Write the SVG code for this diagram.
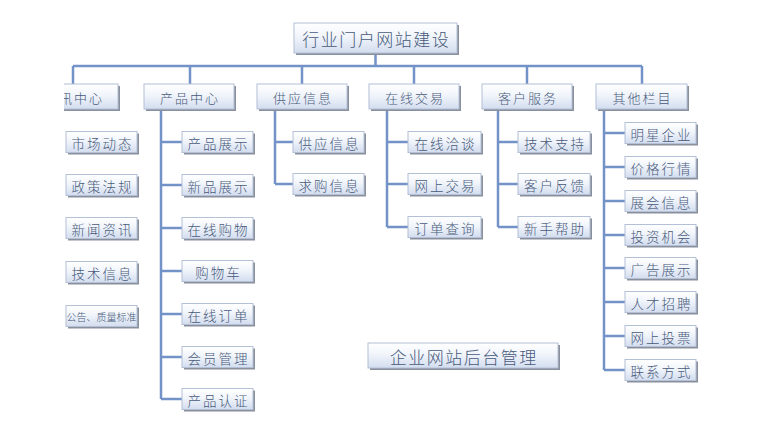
<svg xmlns="http://www.w3.org/2000/svg" width="760" height="433" viewBox="0 0 760 433">
<defs>
<linearGradient id="g" x1="0" y1="0" x2="0" y2="1">
<stop offset="0" stop-color="#ffffff"/>
<stop offset="0.45" stop-color="#f1f5fb"/>
<stop offset="1" stop-color="#d3ddef"/>
</linearGradient>
<clipPath id="cl"><rect x="64" y="0" width="696" height="433"/></clipPath>
</defs>
<style>
.sh{fill:#8a909b}
.bx{fill:url(#g);stroke:#b3c0d6;stroke-width:1}
.t{font-family:"Noto Sans CJK SC","Microsoft YaHei",sans-serif;font-weight:300;fill:#485a7a;text-anchor:middle;dominant-baseline:central}
.t0{font-size:17px;letter-spacing:1.5px}
.t1{font-size:13px;letter-spacing:2px}
.t2{font-size:13.5px;letter-spacing:2px}
.t3{font-size:10px}
.ln{fill:none;stroke:#7393c8;stroke-width:2.5}
</style>
<rect width="760" height="433" fill="#ffffff"/>
<g id="connectors" class="ln" clip-path="url(#cl)">
<path d="M375.5 53V66M73 66H642M73 66V84M190 66V84M302 66V84M414 66V84M527 66V84M642 66V84"/>
<path d="M161 109V399M161 142H182M161 185H182M161 228H182M161 271H182M161 314H182M161 357H182M161 399H182"/>
<path d="M275 109V184M275 142H293M275 184H293"/>
<path d="M387 109V227M387 142H408M387 184H408M387 227H408"/>
<path d="M498 109V227M498 142H518M498 184H518M498 227H518"/>
<path d="M604 109V370M604 133H625M604 167H625M604 201H625M604 235H625M604 268H625M604 302H625M604 336H625M604 370H625"/>
</g>
<g id="root"><rect class="sh" x="296" y="25" width="163" height="30"/><rect class="bx" x="294" y="23" width="163" height="30"/><text class="t t0" x="376.3" y="38.5">行业门户网站建设</text></g>
<g id="admin"><rect class="sh" x="370" y="345" width="190" height="25"/><rect class="bx" x="368" y="343" width="190" height="25"/><text class="t t0" x="463.8" y="356">企业网站后台管理</text></g>
<g clip-path="url(#cl)">
<g id="n-zixun"><rect class="sh" x="30" y="86" width="90" height="25"/><rect class="bx" x="28" y="84" width="90" height="25"/><text class="t t1" x="74" y="97">资讯中心</text></g>
</g>
<g id="n-chanpin"><rect class="sh" x="146" y="86" width="90" height="25"/><rect class="bx" x="144" y="84" width="90" height="25"/><text class="t t1" x="190" y="97">产品中心</text></g>
<g id="n-gongying"><rect class="sh" x="259" y="86" width="90" height="25"/><rect class="bx" x="257" y="84" width="90" height="25"/><text class="t t1" x="303" y="97">供应信息</text></g>
<g id="n-jiaoyi"><rect class="sh" x="371" y="86" width="90" height="25"/><rect class="bx" x="369" y="84" width="90" height="25"/><text class="t t1" x="415" y="97">在线交易</text></g>
<g id="n-kehu"><rect class="sh" x="484" y="86" width="90" height="25"/><rect class="bx" x="482" y="84" width="90" height="25"/><text class="t t1" x="528" y="97">客户服务</text></g>
<g id="n-qita"><rect class="sh" x="598" y="86" width="91" height="25"/><rect class="bx" x="596" y="84" width="91" height="25"/><text class="t t1" x="642.5" y="97">其他栏目</text></g>

<g id="z1"><rect class="sh" x="68" y="133.5" width="71" height="21"/><rect class="bx" x="66" y="131.5" width="71" height="21"/><text class="t t2" x="102.5" y="142.5">市场动态</text></g>
<g id="z2"><rect class="sh" x="68" y="176.5" width="71" height="21"/><rect class="bx" x="66" y="174.5" width="71" height="21"/><text class="t t2" x="102.5" y="185.5">政策法规</text></g>
<g id="z3"><rect class="sh" x="68" y="219.5" width="71" height="21"/><rect class="bx" x="66" y="217.5" width="71" height="21"/><text class="t t2" x="102.5" y="228.5">新闻资讯</text></g>
<g id="z4"><rect class="sh" x="68" y="263.5" width="71" height="21"/><rect class="bx" x="66" y="261.5" width="71" height="21"/><text class="t t2" x="102.5" y="272.5">技术信息</text></g>
<g id="z5"><rect class="sh" x="68" y="307.5" width="71" height="21"/><rect class="bx" x="66" y="305.5" width="71" height="21"/><text class="t t3" x="101.5" y="316.5">公告、质量标准</text></g>

<g id="c1"><rect class="sh" x="184" y="133.5" width="71" height="21"/><rect class="bx" x="182" y="131.5" width="71" height="21"/><text class="t t2" x="218.5" y="142.5">产品展示</text></g>
<g id="c2"><rect class="sh" x="184" y="176.5" width="71" height="21"/><rect class="bx" x="182" y="174.5" width="71" height="21"/><text class="t t2" x="218.5" y="185.5">新品展示</text></g>
<g id="c3"><rect class="sh" x="184" y="219.5" width="71" height="21"/><rect class="bx" x="182" y="217.5" width="71" height="21"/><text class="t t2" x="218.5" y="228.5">在线购物</text></g>
<g id="c4"><rect class="sh" x="184" y="262.5" width="71" height="21"/><rect class="bx" x="182" y="260.5" width="71" height="21"/><text class="t t2" x="218.5" y="271.5">购物车</text></g>
<g id="c5"><rect class="sh" x="184" y="305.5" width="71" height="21"/><rect class="bx" x="182" y="303.5" width="71" height="21"/><text class="t t2" x="218.5" y="314.5">在线订单</text></g>
<g id="c6"><rect class="sh" x="184" y="348.5" width="71" height="21"/><rect class="bx" x="182" y="346.5" width="71" height="21"/><text class="t t2" x="218.5" y="357.5">会员管理</text></g>
<g id="c7"><rect class="sh" x="184" y="390.5" width="71" height="21"/><rect class="bx" x="182" y="388.5" width="71" height="21"/><text class="t t2" x="218.5" y="399.5">产品认证</text></g>

<g id="g1"><rect class="sh" x="295" y="133.5" width="71" height="21"/><rect class="bx" x="293" y="131.5" width="71" height="21"/><text class="t t2" x="329.5" y="142.5">供应信息</text></g>
<g id="g2"><rect class="sh" x="295" y="175.5" width="71" height="21"/><rect class="bx" x="293" y="173.5" width="71" height="21"/><text class="t t2" x="329.5" y="184.5">求购信息</text></g>

<g id="j1"><rect class="sh" x="410" y="133.5" width="73" height="21"/><rect class="bx" x="408" y="131.5" width="73" height="21"/><text class="t t2" x="445.5" y="142.5">在线洽谈</text></g>
<g id="j2"><rect class="sh" x="410" y="175.5" width="73" height="21"/><rect class="bx" x="408" y="173.5" width="73" height="21"/><text class="t t2" x="445.5" y="184.5">网上交易</text></g>
<g id="j3"><rect class="sh" x="410" y="218.5" width="73" height="21"/><rect class="bx" x="408" y="216.5" width="73" height="21"/><text class="t t2" x="445.5" y="227.5">订单查询</text></g>

<g id="k1"><rect class="sh" x="520" y="133.5" width="72" height="21"/><rect class="bx" x="518" y="131.5" width="72" height="21"/><text class="t t2" x="555" y="142.5">技术支持</text></g>
<g id="k2"><rect class="sh" x="520" y="175.5" width="72" height="21"/><rect class="bx" x="518" y="173.5" width="72" height="21"/><text class="t t2" x="555" y="184.5">客户反馈</text></g>
<g id="k3"><rect class="sh" x="520" y="218.5" width="72" height="21"/><rect class="bx" x="518" y="216.5" width="72" height="21"/><text class="t t2" x="555" y="227.5">新手帮助</text></g>

<g id="q1"><rect class="sh" x="627" y="124.5" width="71" height="21"/><rect class="bx" x="625" y="122.5" width="71" height="21"/><text class="t t2" x="661.5" y="133.5">明星企业</text></g>
<g id="q2"><rect class="sh" x="627" y="158.5" width="71" height="21"/><rect class="bx" x="625" y="156.5" width="71" height="21"/><text class="t t2" x="661.5" y="167.5">价格行情</text></g>
<g id="q3"><rect class="sh" x="627" y="192.5" width="71" height="21"/><rect class="bx" x="625" y="190.5" width="71" height="21"/><text class="t t2" x="661.5" y="201.5">展会信息</text></g>
<g id="q4"><rect class="sh" x="627" y="226.5" width="71" height="21"/><rect class="bx" x="625" y="224.5" width="71" height="21"/><text class="t t2" x="661.5" y="235.5">投资机会</text></g>
<g id="q5"><rect class="sh" x="627" y="259.5" width="71" height="21"/><rect class="bx" x="625" y="257.5" width="71" height="21"/><text class="t t2" x="661.5" y="268.5">广告展示</text></g>
<g id="q6"><rect class="sh" x="627" y="293.5" width="71" height="21"/><rect class="bx" x="625" y="291.5" width="71" height="21"/><text class="t t2" x="661.5" y="302.5">人才招聘</text></g>
<g id="q7"><rect class="sh" x="627" y="327.5" width="71" height="21"/><rect class="bx" x="625" y="325.5" width="71" height="21"/><text class="t t2" x="661.5" y="336.5">网上投票</text></g>
<g id="q8"><rect class="sh" x="627" y="361.5" width="71" height="21"/><rect class="bx" x="625" y="359.5" width="71" height="21"/><text class="t t2" x="661.5" y="370.5">联系方式</text></g>
</svg>
